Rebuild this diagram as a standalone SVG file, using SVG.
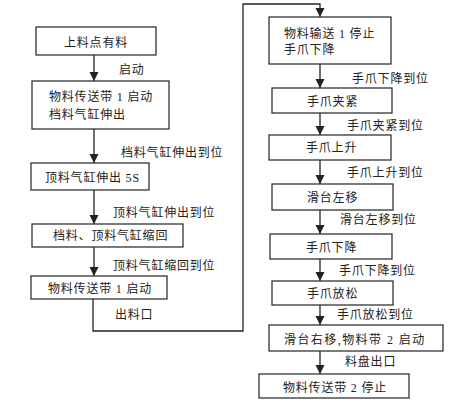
<svg xmlns="http://www.w3.org/2000/svg" width="469" height="403" viewBox="0 0 469 403">
<style>
rect{fill:#fff;stroke:#333;stroke-width:1.3}
text{font-family:"Liberation Serif","Noto Sans CJK SC",serif;font-size:12px;letter-spacing:0.8px;fill:#222}
.c{fill:none;stroke:#222;stroke-width:1.3}
</style>
<defs>
<marker id="ah" markerUnits="userSpaceOnUse" markerWidth="10" markerHeight="10" refX="9" refY="4.5" orient="auto">
<path d="M0,0 L9,4.5 L0,9 Z" fill="#222"/>
</marker>
</defs>
<g id="connectors">
<path class="c" d="M94,55 V81" marker-end="url(#ah)"/>
<path class="c" d="M94,129 V163" marker-end="url(#ah)"/>
<path class="c" d="M94,190 V224" marker-end="url(#ah)"/>
<path class="c" d="M94,247 V276" marker-end="url(#ah)"/>
<path class="c" d="M93,299 V331 H243 V4 H320 V17" marker-end="url(#ah)"/>
<path class="c" d="M320,64 V88" marker-end="url(#ah)"/>
<path class="c" d="M320,113 V135" marker-end="url(#ah)"/>
<path class="c" d="M320,160 V184" marker-end="url(#ah)"/>
<path class="c" d="M320,210 V234" marker-end="url(#ah)"/>
<path class="c" d="M320,259 V281" marker-end="url(#ah)"/>
<path class="c" d="M320,305 V325" marker-end="url(#ah)"/>
<path class="c" d="M320,351 V374" marker-end="url(#ah)"/>
<text x="119" y="73.5">启动</text>
<text x="121" y="156.5">档料气缸伸出到位</text>
<text x="113" y="216.5">顶料气缸伸出到位</text>
<text x="113" y="269.5">顶料气缸缩回到位</text>
<text x="115" y="318.5">出料口</text>
<text x="352" y="82.5">手爪下降到位</text>
<text x="347" y="129.5">手爪夹紧到位</text>
<text x="347" y="176.5">手爪上升到位</text>
<text x="340" y="223.5">滑台左移到位</text>
<text x="339" y="274.5">手爪下降到位</text>
<text x="337" y="318.5">手爪放松到位</text>
<text x="345" y="365.5">料盘出口</text>
</g>
<g id="n1"><rect x="36" y="27" width="120" height="28"/><text x="64" y="46.5">上料点有料</text></g>
<g id="n2"><rect x="32" y="81" width="137" height="48"/><text x="49" y="100.5">物料传送带 1 启动</text><text x="49" y="118.5">档料气缸伸出</text></g>
<g id="n3"><rect x="31" y="163" width="118" height="27"/><text x="45" y="181.5">顶料气缸伸出 5S</text></g>
<g id="n4"><rect x="32" y="224" width="151" height="23"/><text x="53" y="239.5">档料、顶料气缸缩回</text></g>
<g id="n5"><rect x="31" y="276" width="136" height="23"/><text x="48" y="292.5">物料传送带 1 启动</text></g>
<g id="r1"><rect x="269" y="17" width="122" height="47"/><text x="284" y="37.5">物料输送 1 停止</text><text x="284" y="53.5">手爪下降</text></g>
<g id="r2"><rect x="272" y="88" width="120" height="25"/><text x="307" y="105.5">手爪夹紧</text></g>
<g id="r3"><rect x="269" y="135" width="122" height="25"/><text x="306" y="151.5">手爪上升</text></g>
<g id="r4"><rect x="272" y="184" width="121" height="26"/><text x="307" y="201.5">滑台左移</text></g>
<g id="r5"><rect x="270" y="234" width="122" height="25"/><text x="306" y="251.5">手爪下降</text></g>
<g id="r6"><rect x="272" y="281" width="121" height="24"/><text x="307" y="297.5">手爪放松</text></g>
<g id="r7"><rect x="269" y="325" width="174" height="26"/><text x="284" y="343.5" textLength="141" lengthAdjust="spacing">滑台右移,物料带 2 启动</text></g>
<g id="r8"><rect x="259" y="374" width="150" height="24"/><text x="283" y="391.5">物料传送带 2 停止</text></g>
</svg>
